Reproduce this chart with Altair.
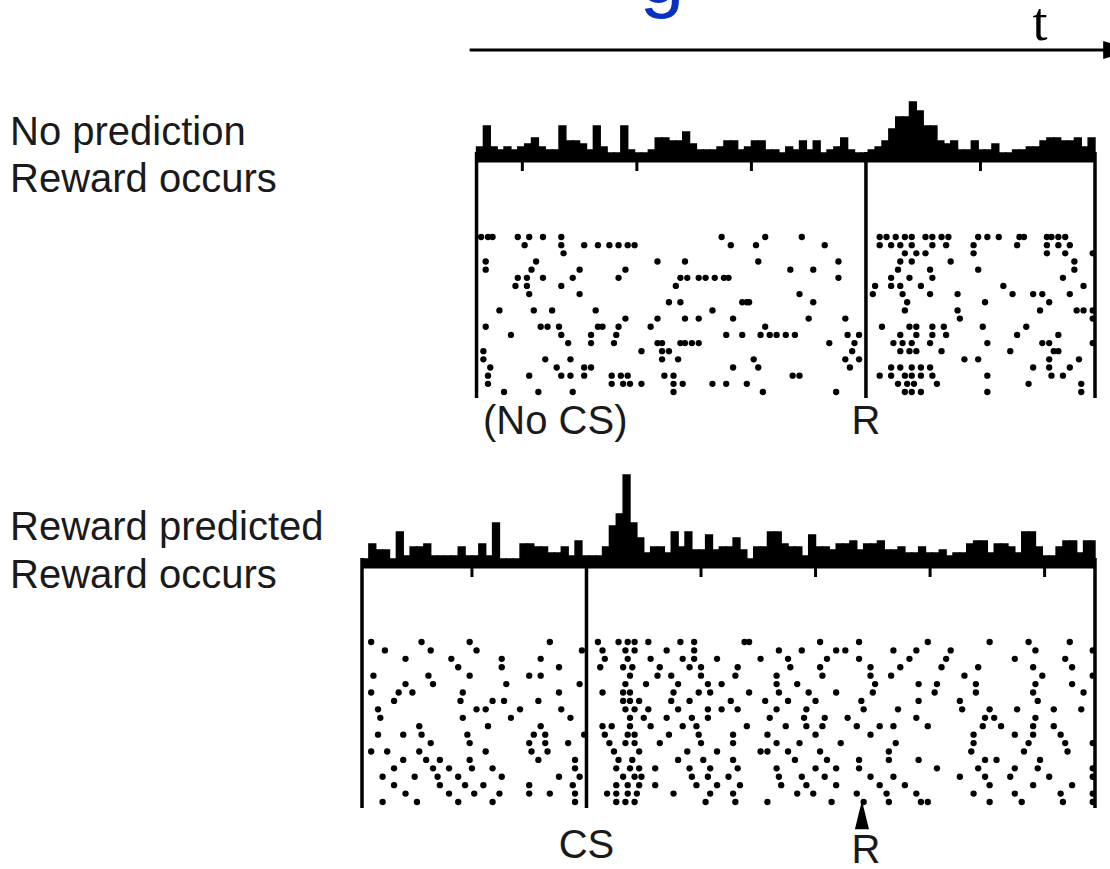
import altair as alt
import pandas as pd

# Time is in seconds relative to reward delivery (R = 0).
BIN_WIDTH = 0.03
TOP_WINDOW = [-1.7, 1.0]
BOTTOM_WINDOW = [-2.2, 1.0]
CS_TIME = -1.22
REWARD_TIME = 0.0

# Peri-event histograms (spike counts per 30 ms bin)
top_counts = [4, 11, 4, 3, 4, 3, 4, 5, 7, 4, 3, 3, 11, 6, 6, 5, 3, 11, 4, 2,
              2, 11, 3, 2, 2, 3, 7, 7, 6, 6, 9, 5, 3, 3, 3, 4, 6, 6, 3, 4,
              6, 6, 3, 3, 2, 4, 3, 6, 3, 6, 2, 3, 4, 7, 3, 2, 2, 3, 4, 6,
              10, 14, 14, 19, 16, 11, 11, 6, 5, 6, 3, 3, 6, 3, 3, 5, 2, 2, 3, 3,
              4, 4, 6, 7, 7, 6, 6, 7, 4, 7]
bottom_counts = [2, 7, 5, 5, 2, 11, 3, 6, 6, 7, 3, 3, 3, 3, 6, 3, 3, 7, 3, 14,
                 2, 2, 2, 7, 7, 6, 6, 4, 4, 6, 3, 8, 3, 3, 3, 6, 13, 17, 30, 14,
                 9, 4, 6, 6, 4, 11, 6, 11, 5, 5, 10, 5, 6, 6, 9, 5, 2, 6, 6, 11,
                 11, 7, 6, 6, 3, 10, 6, 6, 5, 7, 7, 8, 5, 7, 7, 8, 5, 5, 6, 4,
                 4, 6, 4, 4, 5, 3, 4, 4, 7, 8, 8, 4, 7, 7, 6, 4, 11, 11, 6, 3,
                 3, 6, 8, 8, 4, 8, 8]

# Spike rasters: one list of spike times per trial
top_raster = [
    [-1.68, -1.65, -1.63, -1.52, -1.47, -1.41, -1.33, -0.63, -0.44, -0.28, 0.06, 0.09, 0.13, 0.17,
     0.20, 0.26, 0.29, 0.33, 0.36, 0.49, 0.53, 0.58, 0.67, 0.69, 0.79, 0.81, 0.84, 0.87],
    [-1.49, -1.33, -1.23, -1.17, -1.12, -1.08, -1.04, -1.01, -0.59, -0.48, -0.18, 0.06, 0.11, 0.15,
     0.20, 0.29, 0.35, 0.47, 0.66, 0.79, 0.84, 0.89],
    [-1.32, 0.17, 0.22, 0.26, 0.47, 0.79, 0.87, 0.99],
    [-1.66, -1.44, -0.91, -0.79, -0.47, -0.12, 0.15, 0.20, 0.37, 0.91],
    [-1.66, -1.46, -1.25, -1.05, -0.33, -0.23, 0.14, 0.28, 0.49, 0.91],
    [-1.52, -1.48, -1.41, -1.28, -1.08, -0.81, -0.78, -0.73, -0.70, -0.66, -0.62, -0.60, -0.12, 0.11,
     0.19, 0.29, 0.86],
    [-1.53, -1.48, -1.33, -0.83, 0.04, 0.11, 0.15, 0.24, 0.60, 0.95],
    [-1.47, -1.25, -0.29, 0.03, 0.16, 0.28, 0.40, 0.64, 0.73, 0.77, 0.89],
    [-0.86, -0.81, -0.54, -0.52, -0.51, -0.23, 0.18, 0.52, 0.80],
    [-1.60, -1.45, -1.37, -1.18, -0.67, 0.17, 0.40, 0.76, 0.92, 0.95, 0.99],
    [-1.05, -0.91, -0.79, -0.73, -0.58, -0.25, -0.09, 0.41, 0.99],
    [-1.66, -1.42, -1.39, -1.34, -1.17, -1.15, -1.08, -0.94, -0.44, 0.07, 0.19, 0.22, 0.29, 0.34,
     0.51, 0.70],
    [-1.55, -1.33, -1.20, -1.09, -0.61, -0.54, -0.46, -0.42, -0.39, -0.35, -0.31, -0.08, -0.03, 0.15,
     0.22, 0.29, 0.35, 0.66, 0.84],
    [-1.30, -1.20, -1.10, -0.91, -0.89, -0.81, -0.79, -0.76, -0.73, -0.16, -0.05, 0.12, 0.16, 0.20,
     0.28, 0.53, 0.77, 0.80, 0.99],
    [-1.67, -0.98, -0.89, -0.86, -0.06, 0.15, 0.19, 0.22, 0.33, 0.63, 0.82, 0.84],
    [-1.67, -1.40, -1.29, -0.89, -0.82, -0.49, -0.09, -0.03, 0.43, 0.49, 0.80, 0.93],
    [-1.64, -1.35, -1.23, -1.20, -0.58, -0.47, -0.07, 0.11, 0.15, 0.20, 0.24, 0.28, 0.73, 0.80, 0.89],
    [-1.65, -1.47, -1.33, -1.29, -1.23, -1.11, -1.07, -1.04, -0.88, -0.84, -0.32, -0.29, 0.06, 0.11,
     0.17, 0.20, 0.24, 0.29, 0.53, 0.81, 0.86],
    [-1.65, -1.11, -1.06, -1.03, -0.98, -0.84, -0.80, -0.67, -0.61, -0.52, 0.14, 0.18, 0.21, 0.31,
     0.71, 0.94],
    [-1.58, -1.43, -1.28, -0.84, -0.45, -0.13, 0.17, 0.20, 0.24, 0.53, 0.94],
]
bottom_raster = [
    [-2.16, -1.94, -1.73, -1.38, -1.17, -1.08, -1.04, -1.01, -0.95, -0.81, -0.75, -0.53, -0.51, -0.20,
     -0.03, 0.27, 0.54, 0.71, 0.89],
    [-2.10, -1.90, -1.70, -1.24, -1.15, -1.05, -1.01, -0.87, -0.75, -0.38, -0.28, -0.13, -0.09, 0.12,
     0.22, 0.37, 0.74, 0.99],
    [-2.01, -1.81, -1.59, -1.42, -1.14, -1.04, -0.94, -0.80, -0.75, -0.65, -0.46, -0.34, -0.17, -0.03,
     0.19, 0.35, 0.65, 0.87],
    [-1.78, -1.59, -1.34, -1.16, -1.06, -1.02, -0.90, -0.77, -0.72, -0.56, -0.33, -0.20, 0.02, 0.15,
     0.33, 0.49, 0.73, 0.90],
    [-2.15, -1.91, -1.73, -1.47, -1.42, -1.03, -0.91, -0.85, -0.72, -0.57, -0.39, -0.19, 0.02, 0.11,
     0.43, 0.77, 0.99],
    [-2.01, -1.89, -1.57, -1.25, -1.05, -0.96, -0.82, -0.69, -0.63, -0.39, -0.30, 0.04, 0.23, 0.31,
     0.48, 0.74, 0.90],
    [-2.16, -2.04, -1.98, -1.76, -1.34, -1.15, -1.06, -1.03, -0.84, -0.73, -0.68, -0.51, -0.38, -0.25,
     -0.13, 0.03, 0.30, 0.48, 0.73, 0.95],
    [-2.06, -1.77, -1.63, -1.58, -1.43, -1.06, -1.03, -0.99, -0.85, -0.77, -0.59, -0.44, -0.34, -0.22,
     -0.02, 0.23, 0.41, 0.75],
    [-2.13, -1.70, -1.66, -1.51, -1.33, -1.05, -1.01, -0.95, -0.82, -0.69, -0.63, -0.56, -0.39, -0.26,
     -0.01, 0.14, 0.42, 0.54, 0.66, 0.82, 0.94],
    [-2.12, -1.76, -1.55, -1.29, -1.03, -0.97, -0.87, -0.76, -0.69, -0.42, -0.27, -0.18, -0.08, 0.22,
     0.52, 0.56, 0.74],
    [-1.95, -1.65, -1.42, -1.15, -1.11, -1.03, -0.94, -0.80, -0.74, -0.52, -0.35, -0.26, -0.19, -0.04,
     0.06, 0.12, 0.27, 0.51, 0.59, 0.73, 0.82],
    [-2.13, -2.02, -1.94, -1.74, -1.45, -1.40, -1.23, -1.14, -1.04, -1.01, -0.86, -0.73, -0.58, -0.43,
     -0.22, 0.02, 0.47, 0.65, 0.73, 0.85],
    [-1.90, -1.73, -1.47, -1.40, -1.30, -1.12, -1.05, -1.01, -0.90, -0.72, -0.58, -0.39, -0.29, -0.11,
     0.13, 0.47, 0.71, 0.87, 0.99],
    [-2.16, -2.09, -1.95, -1.66, -1.46, -1.39, -1.10, -0.99, -0.78, -0.65, -0.46, -0.43, -0.34, -0.20,
     0.10, 0.46, 0.69, 0.88],
    [-2.02, -1.92, -1.86, -1.73, -1.43, -1.27, -1.08, -1.02, -0.82, -0.71, -0.58, -0.31, -0.17, -0.03,
     0.10, 0.23, 0.52, 0.57, 0.76],
    [-2.06, -1.89, -1.82, -1.72, -1.63, -1.27, -1.09, -1.03, -0.99, -0.92, -0.77, -0.68, -0.56, -0.39,
     -0.22, -0.13, -0.03, 0.31, 0.49, 0.65, 0.75, 0.99],
    [-2.11, -1.97, -1.87, -1.78, -1.59, -1.34, -1.25, -1.06, -1.01, -0.98, -0.76, -0.69, -0.60, -0.38,
     -0.28, -0.18, 0.02, 0.12, 0.41, 0.52, 0.63, 0.80, 0.99],
    [-2.06, -1.86, -1.75, -1.67, -1.47, -1.28, -1.09, -1.04, -0.99, -0.92, -0.74, -0.65, -0.55, -0.37,
     -0.26, -0.13, 0.06, 0.17, 0.54, 0.73, 0.90],
    [-2.01, -1.82, -1.71, -1.60, -1.47, -1.38, -1.27, -1.13, -1.09, -1.04, -1.00, -0.84, -0.68, -0.58,
     -0.30, -0.23, -0.04, 0.09, 0.22, 0.47, 0.65, 0.85, 0.99],
    [-2.11, -1.96, -1.78, -1.63, -1.27, -1.09, -1.05, -1.01, -0.70, -0.57, -0.43, -0.15, -0.01, 0.10,
     0.24, 0.27, 0.54, 0.68, 0.86, 0.99],
]

# Small tick marks under each histogram baseline (every 0.5 s)
top_ticks = [-1.5, -1.0, -0.5, 0.5]
bottom_ticks = [-1.72, -0.72, -0.22, 0.28, 0.78]

# Panel borders and event lines
top_verticals = [TOP_WINDOW[0], REWARD_TIME, TOP_WINDOW[1]]
bottom_verticals = [BOTTOM_WINDOW[0], CS_TIME, BOTTOM_WINDOW[1]]

# Time axis arrow extent
time_arrow = [-1.73, 1.04]


def hist_frame(counts, window):
    rows = []
    for i, c in enumerate(counts):
        t0 = window[0] + i * BIN_WIDTH
        t1 = min(t0 + BIN_WIDTH, window[1])
        rows.append({"t0": t0, "t1": t1, "count": c})
    return pd.DataFrame(rows)


def raster_frame(raster):
    rows = []
    for trial, spikes in enumerate(raster, start=1):
        for t in spikes:
            rows.append({"t": t, "trial": trial})
    return pd.DataFrame(rows)


X_SCALE = alt.Scale(domain=BOTTOM_WINDOW, range=[362, 1095], nice=False, zero=False)
TOP_COUNT = alt.Scale(domain=[0, 20], range=[159, 99], nice=False, zero=False)
BOTTOM_COUNT = alt.Scale(domain=[0, 30], range=[565, 475], nice=False, zero=False)
TOP_TRIAL = alt.Scale(domain=[1, len(top_raster)], range=[237, 392], nice=False, zero=False)
BOTTOM_TRIAL = alt.Scale(domain=[1, len(bottom_raster)], range=[642, 802], nice=False, zero=False)

INK = "black"
TEXT = "#1a1a1a"
SANS = "Liberation Sans"


def tx(field):
    return alt.X(field, type="quantitative", scale=X_SCALE, axis=None)


def histogram(counts, window, yscale):
    df = hist_frame(counts, window)
    bars = alt.Chart(df).mark_bar(color=INK, stroke=INK, strokeWidth=1.4).encode(
        x=tx("t0"), x2="t1",
        y=alt.Y("count:Q", scale=yscale, axis=None),
        y2=alt.Y2(datum=0),
    )
    base = alt.Chart(pd.DataFrame({"t0": [window[0]], "t1": [window[1]]})).mark_rule(
        color=INK, strokeWidth=7
    ).encode(x=tx("t0"), x2="t1", y=alt.Y(datum=0, scale=yscale, axis=None))
    return [bars, base]


def raster(rows, yscale):
    return alt.Chart(raster_frame(rows)).mark_circle(size=40, color=INK, opacity=1).encode(
        x=tx("t"), y=alt.Y("trial:Q", scale=yscale, axis=None)
    )


def verticals(times, y_top, y_bottom):
    return alt.Chart(pd.DataFrame({"t": times})).mark_rule(color=INK, strokeWidth=3.5).encode(
        x=tx("t"), y=alt.value(y_top), y2=alt.value(y_bottom)
    )


def ticks(times, y_base):
    return alt.Chart(pd.DataFrame({"t": times})).mark_rule(color=INK, strokeWidth=3).encode(
        x=tx("t"), y=alt.value(y_base), y2=alt.value(y_base + 11)
    )


def label(text, x, y, size, align="left", font=SANS, color=TEXT):
    return alt.Chart(pd.DataFrame({"label": [text]})).mark_text(
        align=align, baseline="alphabetic", fontSize=size, font=font, color=color
    ).encode(x=x, y=alt.value(y), text="label:N")


# Time arrow along the top
arrow_line = alt.Chart(pd.DataFrame({"t0": [time_arrow[0]], "t1": [time_arrow[1]]})).mark_rule(
    color=INK, strokeWidth=3
).encode(x=tx("t0"), x2="t1", y=alt.value(50))
arrow_head = alt.Chart(pd.DataFrame({"t": [time_arrow[1]]})).mark_point(
    shape="M-1,-0.6L1,0L-1,0.6Z", filled=True, size=900, color=INK, opacity=1
).encode(x=tx("t"), y=alt.value(50), xOffset=alt.value(14))

# Small arrowhead marking reward delivery under the lower raster
reward_marker = alt.Chart(pd.DataFrame({"t": [REWARD_TIME]})).mark_point(
    shape="M0,-1L0.5,1L-0.5,1Z", filled=True, size=800, color=INK, opacity=1
).encode(x=tx("t"), y=alt.value(815), xOffset=alt.value(-4))

layers = (
    [label("g", alt.value(662), 2, 80, align="center", color="#0a2fc4")]
    + [arrow_line, arrow_head, label("t", alt.value(1040), 40, 54, align="center", font="Liberation Serif", color=INK)]
    + [label("No prediction", alt.value(10), 145, 40), label("Reward occurs", alt.value(10), 192, 40)]
    + histogram(top_counts, TOP_WINDOW, TOP_COUNT)
    + [verticals(top_verticals, 152, 398), ticks(top_ticks, 160), raster(top_raster, TOP_TRIAL)]
    + [label("(No CS)", alt.value(483), 434, 40),
       label("R", alt.X(datum=REWARD_TIME, scale=X_SCALE, axis=None), 434, 40, align="center")]
    + [label("Reward predicted", alt.value(10), 540, 40), label("Reward occurs", alt.value(10), 588, 40)]
    + histogram(bottom_counts, BOTTOM_WINDOW, BOTTOM_COUNT)
    + [verticals(bottom_verticals, 558, 808), ticks(bottom_ticks, 566), raster(bottom_raster, BOTTOM_TRIAL)]
    + [reward_marker,
       label("CS", alt.X(datum=CS_TIME, scale=X_SCALE, axis=None), 858, 40, align="center"),
       label("R", alt.X(datum=REWARD_TIME, scale=X_SCALE, axis=None), 863, 40, align="center")]
)

chart = alt.layer(*layers).resolve_scale(y="independent").properties(
    width=1110, height=869, padding=0, background="white",
    autosize=alt.AutoSizeParams(type="none"),
).configure_view(stroke=None)

chart.save("out.html", embed_options={"renderer": "svg", "actions": False})
